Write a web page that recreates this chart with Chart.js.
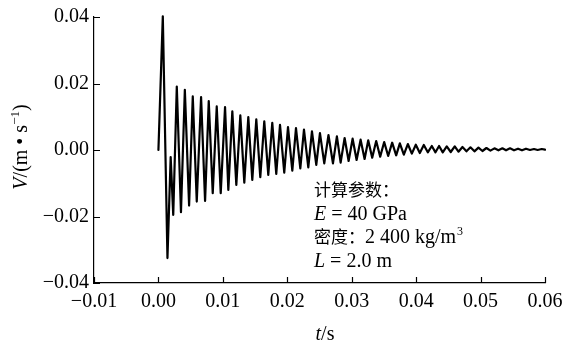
<!DOCTYPE html>
<html>
<head>
<meta charset="utf-8">
<script src="https://cdn.jsdelivr.net/npm/chart.js@4/dist/chart.umd.min.js"></script>
<style>
html,body{margin:0;padding:0;background:#fff;}
#c{display:block;}
</style>
</head>
<body>
<canvas id="c" width="564" height="345"></canvas>
<script>
// Time (s) of each read-off point (start, then alternating peaks/troughs)
const timeS = [0, 0.00068, 0.0014, 0.0019, 0.0023, 0.00285, 0.0035, 0.0041, 0.00476, 0.00533,
  0.00595, 0.00662, 0.00724, 0.00781, 0.00843, 0.00905, 0.00967, 0.01034, 0.01085, 0.01147,
  0.01209, 0.01271, 0.01333, 0.01395, 0.01457, 0.01519, 0.01581, 0.01643, 0.01705, 0.01767,
  0.01829, 0.01887, 0.01953, 0.02011, 0.02078, 0.02135, 0.02202, 0.02259, 0.02326, 0.02383,
  0.0245, 0.02507, 0.02574, 0.02639, 0.02709, 0.0277, 0.02828, 0.0289, 0.02952, 0.03014,
  0.03076, 0.03138, 0.032, 0.03256, 0.03318, 0.0338, 0.03442, 0.03504, 0.03566, 0.03628,
  0.0369, 0.03747, 0.03809, 0.03871, 0.03933, 0.03995, 0.04057, 0.04119, 0.04181, 0.04243,
  0.043, 0.04356, 0.04413, 0.04475, 0.04537, 0.04599, 0.04657, 0.04719, 0.04781, 0.04843,
  0.04905, 0.04967, 0.05029, 0.05091, 0.05153, 0.05215, 0.05277, 0.05339, 0.05395, 0.05457,
  0.05519, 0.05581, 0.05643, 0.05705, 0.05767, 0.05829, 0.05886, 0.05949, 0.06];

// Velocity V (m/s) at those times
const velocity = [0, 0.0402, -0.0325, -0.0021, -0.0195, 0.0191, -0.0187, 0.0181, -0.0167, 0.0161,
  -0.0155, 0.0159, -0.0153, 0.0147, -0.0130, 0.0131, -0.0130, 0.0129, -0.0120, 0.0116,
  -0.0105, 0.0104, -0.0098, 0.0099, -0.0090, 0.0092, -0.0082, 0.0086, -0.0075, 0.0082,
  -0.0072, 0.0076, -0.0068, 0.0069, -0.0062, 0.0066, -0.0055, 0.0061, -0.0052, 0.0056,
  -0.0045, 0.0051, -0.0040, 0.0045, -0.0040, 0.0041, -0.0038, 0.0036, -0.0033, 0.0034,
  -0.0030, 0.0031, -0.0027, 0.0029, -0.0023, 0.0027, -0.0020, 0.0024, -0.0018, 0.0022,
  -0.0016, 0.0020, -0.0014, 0.0018, -0.0011, 0.0016, -0.0009, 0.0015, -0.0007, 0.0012,
  -0.0007, 0.0012, -0.0007, 0.0011, -0.0006, 0.0011, -0.0005, 0.0009, -0.0004, 0.0008,
  -0.0004, 0.0007, -0.0003, 0.0006, -0.0002, 0.0005, -0.0001, 0.0005, -0.0001, 0.0005,
  -0.0001, 0.0004, -0.0001, 0.0004, 0.0000, 0.0003, 0.0000, 0.0003, 0.0001];

const xTicks = [-0.01, 0.00, 0.01, 0.02, 0.03, 0.04, 0.05, 0.06];
const yTicks = [-0.04, -0.02, 0.00, 0.02, 0.04];

const SERIF = '"Liberation Serif", "Noto Sans CJK SC", serif';
const fmt = v => (v < -1e-9 ? '\u2212' : '') + Math.abs(v).toFixed(2);

const points = timeS.map((t, i) => ({x: t, y: velocity[i]}));

const inwardTicks = {
  id: 'inwardTicks',
  afterDraw(chart) {
    const {ctx, chartArea: a, scales: {x, y}} = chart;
    ctx.save();
    ctx.strokeStyle = '#000';
    ctx.lineWidth = 1.2;
    ctx.beginPath();
    xTicks.forEach(v => {
      const px = Math.round(x.getPixelForValue(v)) + 0.5;
      ctx.moveTo(px, a.bottom); ctx.lineTo(px, a.bottom - 6);
    });
    yTicks.forEach(v => {
      const py = Math.round(y.getPixelForValue(v)) + 0.5;
      ctx.moveTo(a.left, py); ctx.lineTo(a.left + 6, py);
    });
    ctx.stroke();

    ctx.fillStyle = '#000';
    ctx.textBaseline = 'alphabetic';
    const f = '20px ' + SERIF, fi = 'italic 20px ' + SERIF;
    // x title: t/s
    const tx = 325, ty = 340;
    ctx.textAlign = 'left';
    ctx.font = fi;
    const wT = ctx.measureText('t').width;
    ctx.font = f;
    const wS = ctx.measureText('/s').width;
    const sx = tx - (wT + wS) / 2;
    ctx.font = fi; ctx.fillText('t', sx, ty);
    ctx.font = f; ctx.fillText('/s', sx + wT, ty);

    // y title: V/(m • s^-1)
    ctx.save();
    ctx.translate(27, 147);
    ctx.rotate(-Math.PI / 2);
    const parts = [
      {t: 'V', font: fi, dy: 0},
      {t: '/(m • s', font: f, dy: 0},
      {t: '\u22121', font: '13px ' + SERIF, dy: -8},
      {t: ')', font: f, dy: 0}
    ];
    let total = 0;
    parts.forEach(p => { ctx.font = p.font; p.w = ctx.measureText(p.t).width; total += p.w; });
    let cx = -total / 2;
    parts.forEach(p => { ctx.font = p.font; ctx.fillText(p.t, cx, p.dy); cx += p.w; });
    ctx.restore();

    // annotation block
    const ax = a.left + 220, ay0 = 196, dl = 23.5;
    const cjk = '17px "Noto Sans CJK SC", ' + SERIF;
    ctx.font = cjk;
    ctx.fillText('计算参数：', ax, ay0);
    ctx.font = fi; ctx.fillText('E', ax, ay0 + dl);
    let w = ctx.measureText('E').width;
    ctx.font = f; ctx.fillText(' = 40 GPa', ax + w, ay0 + dl);
    ctx.font = cjk;
    ctx.fillText('密度：', ax, ay0 + 2 * dl);
    w = ctx.measureText('密度：').width;
    ctx.font = f; ctx.fillText('2 400 kg/m', ax + w, ay0 + 2 * dl);
    const w2 = ctx.measureText('2 400 kg/m').width;
    ctx.font = '12px ' + SERIF; ctx.fillText('3', ax + w + w2 + 1, ay0 + 2 * dl - 8);
    ctx.font = fi; ctx.fillText('L', ax, ay0 + 3 * dl);
    w = ctx.measureText('L').width;
    ctx.font = f; ctx.fillText(' = 2.0 m', ax + w, ay0 + 3 * dl);
    ctx.restore();
  }
};

new Chart(document.getElementById('c'), {
  type: 'line',
  data: {
    datasets: [{
      data: points,
      borderColor: '#000',
      borderWidth: 2.2,
      borderJoinStyle: 'round',
      borderCapStyle: 'round',
      pointRadius: 0,
      tension: 0,
      fill: false,
      clip: false
    }]
  },
  options: {
    responsive: false,
    animation: false,
    layout: {padding: {left: 0, top: 17, right: 19, bottom: 0}},
    plugins: {legend: {display: false}, tooltip: {enabled: false}},
    scales: {
      x: {
        type: 'linear',
        min: -0.01, max: 0.06,
        afterFit: s => { s.height = 62; s.paddingLeft = 0; s.paddingRight = 0; },
        afterBuildTicks: s => { s.ticks = xTicks.map(v => ({value: v})); },
        grid: {display: false, drawTicks: false},
        border: {display: true, color: '#000', width: 1.2},
        ticks: {
          color: '#000', padding: 7, maxRotation: 0, autoSkip: false,
          font: {family: SERIF, size: 20},
          callback: v => fmt(v)
        }
      },
      y: {
        type: 'linear',
        min: -0.04, max: 0.04,
        afterFit: s => { s.width = 94; s.paddingTop = 0; s.paddingBottom = 0; },
        afterBuildTicks: s => { s.ticks = yTicks.map(v => ({value: v})); },
        grid: {display: false, drawTicks: false},
        border: {display: true, color: '#000', width: 1.2},
        ticks: {
          color: '#000', padding: 5, autoSkip: false,
          font: {family: SERIF, size: 20},
          callback: v => fmt(v)
        }
      }
    }
  },
  plugins: [inwardTicks]
});
</script>
</body>
</html>
